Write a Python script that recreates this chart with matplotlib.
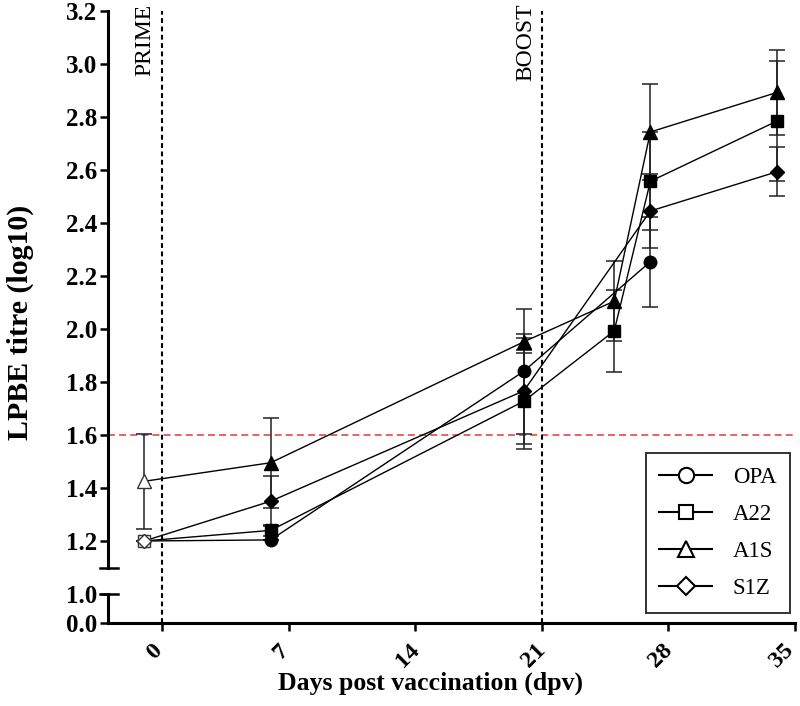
import numpy as np
import matplotlib
matplotlib.use("Agg")
import matplotlib.pyplot as plt
import matplotlib.transforms as mtransforms
from matplotlib.lines import Line2D

plt.rcParams["font.family"] = ["Liberation Serif", "DejaVu Serif"]
plt.rcParams["lines.scale_dashes"] = False

# ---------------- data ----------------
series_names = ["OPA", "A22", "A1S", "S1Z"]
series_markers = ["o", "s", "^", "D"]

days_opa = [-1, 6, 20, 27]
opa = [1.20, 1.204, 1.84, 2.253]
opa_err = [0.0, 0.0, 0.235, 0.17]

days_a22 = [-1, 6, 20, 25, 27, 34]
a22 = [1.20, 1.24, 1.727, 1.992, 2.556, 2.783]
a22_err = [0.0, 0.02, 0.18, 0.155, 0.185, 0.225]

days_a1s = [-1, 6, 20, 25, 27, 34]
a1s = [1.425, 1.495, 1.951, 2.104, 2.742, 2.891]
a1s_err = [0.178, 0.17, 0.031, 0.15, 0.18, 0.16]

days_s1z = [-1, 6, 20, 27, 34]
s1z = [1.20, 1.35, 1.766, 2.444, 2.592]
s1z_err = [0.0, 0.095, 0.20, 0.14, 0.093]

x_ticks = [0, 7, 14, 21, 28, 35]
y_ticks = [0.0, 1.0, 1.2, 1.4, 1.6, 1.8, 2.0, 2.2, 2.4, 2.6, 2.8, 3.0, 3.2]
threshold = 1.6
prime_day, boost_day = 0, 21
break_low, break_high = 1.0, 1.1

# ---------------- broken-scale helpers ----------------
K = 28.5 / 265.5


def fwd(y):
    y = np.asarray(y, dtype=float)
    return np.where(y >= 1.0, y, 1.0 + (y - 1.0) * K)


def inv(v):
    v = np.asarray(v, dtype=float)
    return np.where(v >= 1.0, v, 1.0 + (v - 1.0) / K)


fig = plt.figure(figsize=(8.0, 7.06), dpi=100)
ax = fig.add_axes([108 / 800, 83.5 / 706, 687 / 800, 612 / 706])
ax.set_yscale("function", functions=(fwd, inv))
ax.set_xlim(-3, 35)
ax.set_ylim(0, 3.2)

# reference lines
ax.axhline(threshold, color="#e5484a", lw=1.2, dashes=(5, 3), zorder=1)
for d in (prime_day, boost_day):
    ax.axvline(d, color="black", lw=1.5, dashes=(3.5, 2.5), zorder=1)
ax.text(prime_day - 0.95, 3.225, "PRIME", rotation=90, ha="center", va="top",
        fontsize=17)
ax.text(boost_day - 0.9, 3.225, "BOOST", rotation=90, ha="center", va="top",
        fontsize=17)

all_days = [days_opa, days_a22, days_a1s, days_s1z]
all_vals = [opa, a22, a1s, s1z]
all_errs = [opa_err, a22_err, a1s_err, s1z_err]
msizes = [9, 8.5, 9.5, 7]

for name, mk, d, v, e, ms in zip(series_names, series_markers, all_days,
                                 all_vals, all_errs, msizes):
    d = np.array(d)
    v = np.array(v)
    e = np.array(e)
    ax.errorbar(d, v, yerr=e, fmt="none", ecolor="#222222", elinewidth=1.1,
                capsize=6, capthick=1.1, zorder=2)
    ax.plot(d, v, color="black", lw=1.0, zorder=3)
    ax.plot(d[:1], v[:1], ls="none", marker=mk, ms=ms, mfc="white",
            mec="#333333", mew=1.0, zorder=4)
    ax.plot(d[1:], v[1:], ls="none", marker=mk, ms=ms, mfc="black",
            mec="black", zorder=4)

# axes styling
for s in ("top", "right", "left"):
    ax.spines[s].set_visible(False)
ax.spines["bottom"].set_linewidth(2.2)
ax.set_xticks(x_ticks)
ax.set_yticks(y_ticks)
ax.set_yticklabels([f"{t:.1f}" for t in y_ticks])
ax.tick_params(axis="both", direction="out", length=6, width=1.8,
               labelsize=18)
ax.tick_params(axis="x", labelsize=17.5, pad=5)
ax.tick_params(axis="y", pad=2)
xlabels = ax.get_xticklabels()
for i, lab in enumerate(xlabels):
    dx = -8 if i < len(xlabels) - 1 else -13
    shift = mtransforms.ScaledTranslation(dx / 100, -2 / 100,
                                          fig.dpi_scale_trans)
    lab.set_rotation(45)
    lab.set_fontweight("bold")
    lab.set_transform(lab.get_transform() + shift)
for lab in ax.get_yticklabels():
    lab.set_fontweight("bold")

# broken left spine
yt = ax.get_yaxis_transform()
ax.plot([0, 0], [break_high, 3.2], color="black", lw=2.2, transform=yt,
        clip_on=False, zorder=5, solid_capstyle="projecting")
ax.plot([0, 0], [0, break_low], color="black", lw=2.2, transform=yt,
        clip_on=False, zorder=5, solid_capstyle="projecting")
for yb in (break_low, break_high):
    ax.plot([-0.012, 0.0145], [yb, yb], color="black", lw=1.8, transform=yt,
            clip_on=False, zorder=5)

ax.set_xlabel("Days post vaccination (dpv)", fontsize=18.5, fontweight="bold")
ax.xaxis.set_label_coords(0.47, -0.081)
ax.set_ylabel("LPBE titre (log10)", fontsize=21.5, fontweight="bold")
ax.yaxis.set_label_coords(-0.107, 0.49)

handles = [Line2D([], [], color="black", lw=1.5, marker=m, ms=ms,
                  mfc="white", mec="black", mew=1.5)
           for m, ms in zip(series_markers, [11, 10, 11, 9])]
leg = ax.legend(handles, series_names, loc="upper right",
                bbox_to_anchor=(0.993, 0.277), fontsize=16.5, frameon=True,
                fancybox=False, handlelength=2.3, handletextpad=0.9,
                labelspacing=0.7, borderpad=0.6, borderaxespad=0)
leg.get_frame().set_edgecolor("black")
leg.get_frame().set_linewidth(1.4)

fig.savefig("out.png", dpi=100)
